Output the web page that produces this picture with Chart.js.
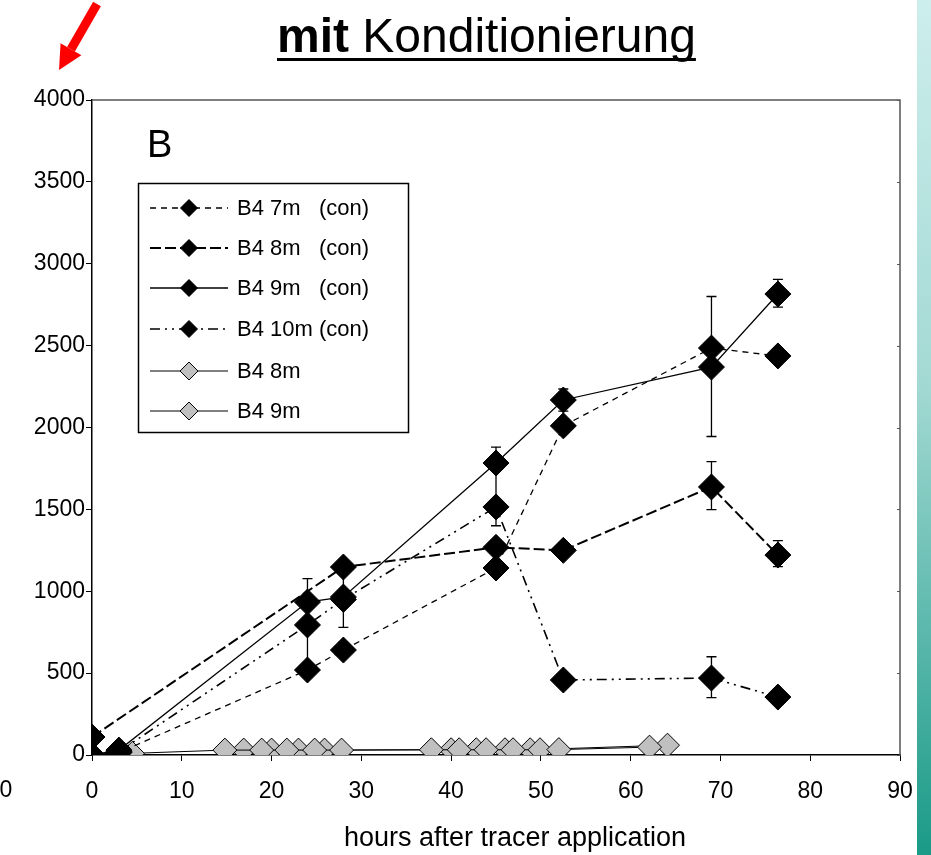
<!DOCTYPE html>
<html><head><meta charset="utf-8">
<script src="https://cdn.jsdelivr.net/npm/chart.js@4.4.0/dist/chart.umd.min.js"></script>
<style>
html,body{margin:0;padding:0;background:#fff;overflow:hidden}
#wrap{position:relative;width:931px;height:855px}
#strip{position:absolute;left:917px;top:0;width:14px;height:855px;background:linear-gradient(#cdeeed,#a3d9d3 45%,#1a9a88)}
</style></head><body>
<div id="wrap"><canvas id="c" width="931" height="855"></canvas><div id="strip"></div></div>
<script>
// ---- data ----
const xTickValues = [0,10,20,30,40,50,60,70,80,90];
const yTickValues = [0,500,1000,1500,2000,2500,3000,3500,4000];

const hours7con  = [0, 3, 24, 28, 45, 52.5, 69, 76.4];
const b4_7m_con  = [0, 15, 519, 641, 1142, 2010, 2485, 2437];

const hours8con  = [0, 28, 45, 52.5, 69, 76.4];
const b4_8m_con  = [110, 1148, 1268, 1250, 1637, 1221];
const b4_8m_errLow  = [null, null, null, null, 1498, 1150];
const b4_8m_errHigh = [null, null, null, null, 1792, 1309];

const hours9con  = [0, 3, 24, 28, 45, 52.5, 69, 76.4];
const b4_9m_con  = [0, 30, 934, 965, 1783, 2168, 2369, 2815];
const b4_9m_errLow  = [null, null, null, 780, 1517, 2100, 1945, 2735];
const b4_9m_errHigh = [null, null, null, 1150, 1880, 2235, 2800, 2905];

const hours10con = [0, 3, 24, 28, 45, 52.5, 69, 76.4];
const b4_10m_con = [0, 20, 794, 950, 1515, 458, 470, 354];
const b4_10m_errLow  = [null, null, 520, null, 1400, null, 350, null];
const b4_10m_errHigh = [null, null, 1077, null, 1517, null, 600, null];

const hours8  = [4.5, 14.8, 18.9, 21.7, 24.8, 27.8, 37.8, 40.9, 43.9, 46.9, 49.9, 52.0, 62.1];
const b4_8m   = [10, 30, 30, 30, 30, 30, 32, 32, 32, 32, 32, 33, 48];
const hours9  = [16.9, 20.0, 23.0, 25.9, 40.0, 42.8, 46.0, 48.8, 64.1];
const b4_9m   = [30, 30, 30, 30, 32, 32, 32, 32, 60];

const seriesLabels = ['B4 7m', 'B4 8m', 'B4 9m', 'B4 10m', 'B4 8m', 'B4 9m'];
const conFlags = [true, true, true, true, false, false];
const titleBold = 'mit';
const titleRest = ' Konditionierung';
const panelLetter = 'B';
const xTitle = 'hours after tracer application';

const pts = (xs, ys) => xs.map((x, i) => ({x: x, y: ys[i]}));

function conDs(i, xs, ys, dash, bw, lo, hi) {
  return {
    label: seriesLabels[i] + ' (con)', data: pts(xs, ys),
    borderColor: '#000', borderWidth: bw, borderDash: dash,
    pointStyle: 'rectRot', pointRadius: 13, pointBackgroundColor: '#000',
    pointBorderColor: '#000', pointBorderWidth: 1, tension: 0, clip: 0,
    errLow: lo, errHigh: hi
  };
}
function refDs(i, xs, ys) {
  return {
    label: seriesLabels[i], data: pts(xs, ys),
    borderColor: '#000', borderWidth: 1, borderDash: [],
    pointStyle: 'rectRot', pointRadius: 12, pointBackgroundColor: '#c0c0c0',
    pointBorderColor: '#000', pointBorderWidth: 1, tension: 0, clip: 0
  };
}

const datasets = [
  conDs(0, hours7con, b4_7m_con, [6,5], 1.3, null, null),
  conDs(1, hours8con, b4_8m_con, [11,4], 2, b4_8m_errLow, b4_8m_errHigh),
  conDs(2, hours9con, b4_9m_con, [], 1.3, b4_9m_errLow, b4_9m_errHigh),
  conDs(3, hours10con, b4_10m_con, [10,5,2,5,2,5], 1.6, b4_10m_errLow, b4_10m_errHigh),
  refDs(4, hours8, b4_8m),
  refDs(5, hours9, b4_9m)
];

function diamond(ctx, x, y, r, fill, stroke) {
  ctx.beginPath();
  ctx.moveTo(x - r, y); ctx.lineTo(x, y - r); ctx.lineTo(x + r, y); ctx.lineTo(x, y + r);
  ctx.closePath();
  ctx.fillStyle = fill; ctx.fill();
  ctx.lineWidth = 1; ctx.strokeStyle = stroke; ctx.setLineDash([]); ctx.stroke();
}

const deco = {
  id: 'deco',
  beforeDatasetsDraw(chart) {
    const ctx = chart.ctx, xs = chart.scales.x, ys = chart.scales.y;
    ctx.save();
    ctx.strokeStyle = '#000'; ctx.lineWidth = 1.3; ctx.setLineDash([]);
    chart.data.datasets.forEach(ds => {
      if (!ds.errLow) return;
      ds.data.forEach((p, i) => {
        const lo = ds.errLow[i], hi = ds.errHigh[i];
        if (lo == null || hi == null) return;
        const px = xs.getPixelForValue(p.x);
        const yl = ys.getPixelForValue(lo), yh = ys.getPixelForValue(hi);
        ctx.beginPath();
        ctx.moveTo(px, yl); ctx.lineTo(px, yh);
        ctx.moveTo(px - 5, yl); ctx.lineTo(px + 5, yl);
        ctx.moveTo(px - 5, yh); ctx.lineTo(px + 5, yh);
        ctx.stroke();
      });
    });
    ctx.restore();
  },
  afterDraw(chart) {
    const ctx = chart.ctx, a = chart.chartArea, ys = chart.scales.y;
    ctx.save();
    // plot frame top/right
    ctx.strokeStyle = '#555'; ctx.lineWidth = 1.5; ctx.setLineDash([]);
    ctx.beginPath();
    ctx.moveTo(a.left, a.top); ctx.lineTo(a.right, a.top); ctx.lineTo(a.right, a.bottom);
    ctx.stroke();
    ctx.lineWidth = 1;
    yTickValues.forEach(v => {
      const py = Math.round(ys.getPixelForValue(v)) + 0.5;
      ctx.beginPath(); ctx.moveTo(a.right - 3, py); ctx.lineTo(a.right, py); ctx.stroke();
    });

    // title
    ctx.fillStyle = '#000'; ctx.textBaseline = 'alphabetic'; ctx.textAlign = 'left';
    ctx.font = 'bold 48px "Liberation Sans", Arial, sans-serif';
    const tx = 277;
    ctx.fillText(titleBold, tx, 52);
    const w1 = ctx.measureText(titleBold).width;
    ctx.font = '48px "Liberation Sans", Arial, sans-serif';
    ctx.fillText(titleRest, tx + w1, 52);
    const w2 = ctx.measureText(titleRest).width;
    ctx.fillRect(tx, 58, w1 + w2, 3);

    // panel letter
    ctx.font = '38px "Liberation Sans", Arial, sans-serif';
    ctx.fillText(panelLetter, 147, 157);

    // x axis title
    ctx.font = '27px "Liberation Sans", Arial, sans-serif';
    ctx.textAlign = 'center'; ctx.textBaseline = 'middle';
    ctx.fillText(xTitle, 515, 839);

    // stray zero at far left
    ctx.font = '23px "Liberation Sans", Arial, sans-serif';
    ctx.fillText('0', 6, 791);

    // legend
    ctx.fillStyle = '#fff';
    ctx.fillRect(138.5, 183.5, 270, 249);
    ctx.strokeStyle = '#000'; ctx.lineWidth = 1.5;
    ctx.strokeRect(138.5, 183.5, 270, 249);
    const rows = [208, 248, 288, 329, 371, 411];
    chart.data.datasets.forEach((ds, i) => {
      const y = rows[i];
      ctx.strokeStyle = '#000'; ctx.lineWidth = ds.borderWidth;
      ctx.setLineDash(ds.borderDash || []);
      ctx.beginPath(); ctx.moveTo(150, y); ctx.lineTo(228, y); ctx.stroke();
      ctx.setLineDash([]);
      if (conFlags[i]) diamond(ctx, 189, y, 8.5, '#000', '#000');
      else diamond(ctx, 189, y, 9, '#c0c0c0', '#000');
      ctx.fillStyle = '#000'; ctx.textAlign = 'left'; ctx.textBaseline = 'middle';
      ctx.font = '22px "Liberation Sans", Arial, sans-serif';
      ctx.fillText(seriesLabels[i], 237, y + 1);
      if (conFlags[i]) ctx.fillText('(con)', 319, y + 1);
    });

    // red arrow
    const tail = [97, 4], tip = [59, 70];
    const dx = tip[0] - tail[0], dy = tip[1] - tail[1], L = Math.hypot(dx, dy);
    const ux = dx / L, uy = dy / L, nx = -uy, ny = ux;
    const hb = [tip[0] - ux * 24, tip[1] - uy * 24];
    ctx.strokeStyle = '#ff0000'; ctx.lineWidth = 9; ctx.lineCap = 'butt';
    ctx.beginPath(); ctx.moveTo(tail[0], tail[1]); ctx.lineTo(hb[0], hb[1]); ctx.stroke();
    ctx.fillStyle = '#ff0000';
    ctx.beginPath();
    ctx.moveTo(tip[0], tip[1]);
    ctx.lineTo(hb[0] + nx * 12, hb[1] + ny * 12);
    ctx.lineTo(hb[0] - nx * 12, hb[1] - ny * 12);
    ctx.closePath(); ctx.fill();
    ctx.restore();
  }
};

Chart.defaults.font.family = '"Liberation Sans", Arial, sans-serif';
Chart.defaults.color = '#000';

new Chart(document.getElementById('c'), {
  type: 'line',
  data: { datasets: datasets },
  options: {
    responsive: false, animation: false, devicePixelRatio: 1, events: [],
    layout: { padding: { top: 100, right: 31, left: 0, bottom: 0 } },
    plugins: { legend: { display: false }, tooltip: { enabled: false }, title: { display: false } },
    scales: {
      x: {
        type: 'linear', min: 0, max: 90,
        afterBuildTicks: s => { s.ticks = xTickValues.map(v => ({value: v})); },
        afterFit: s => { s.height = 100; },
        ticks: { font: { size: 23 }, color: '#000', padding: 17, maxRotation: 0, autoSkip: false,
                 callback: v => String(v) },
        grid: { display: true, drawOnChartArea: false, drawTicks: true, tickLength: 6, color: '#000', lineWidth: 1 },
        border: { display: true, color: '#000', width: 1.5 }
      },
      y: {
        type: 'linear', min: 0, max: 4000,
        afterBuildTicks: s => { s.ticks = yTickValues.map(v => ({value: v})); },
        afterFit: s => { s.width = 92; },
        ticks: { font: { size: 23 }, color: '#000', padding: 1, autoSkip: false,
                 callback: v => String(v) },
        grid: { display: true, drawOnChartArea: false, drawTicks: true, tickLength: 6, color: '#000', lineWidth: 1 },
        border: { display: true, color: '#000', width: 1.5 }
      }
    }
  },
  plugins: [deco]
});
</script>
</body></html>
